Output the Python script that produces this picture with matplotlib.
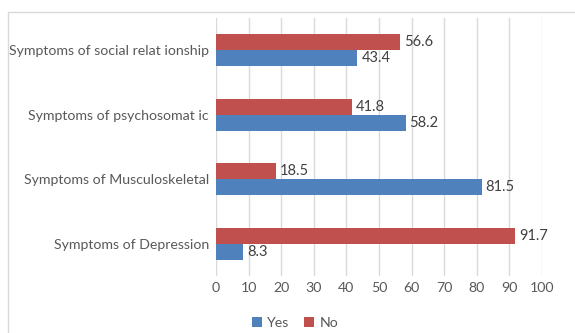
import matplotlib
matplotlib.use("Agg")
import matplotlib.pyplot as plt
from matplotlib.patches import Rectangle

categories = ["Symptoms of Depression", "Symptoms of Musculoskeletal",
              "Symptoms of psychosomat ic", "Symptoms of social relat ionship"]
yes_values = [8.3, 81.5, 58.2, 43.4]
no_values = [91.7, 18.5, 41.8, 56.6]
x_ticks = [0, 10, 20, 30, 40, 50, 60, 70, 80, 90, 100]

BLUE = "#4F81BD"
RED = "#C0504D"
GRID = "#D9D9D9"
TEXT = "#595959"
VAL = "#404040"
FS = 10.2

plt.rcParams["font.family"] = ["Lato", "DejaVu Sans"]

fig = plt.figure(figsize=(5.75, 3.33), dpi=100)
fig.patches.append(Rectangle((8 / 575, -0.1), 1.2, 1 - 12 / 333 + 0.1,
                             transform=fig.transFigure, fill=False,
                             edgecolor=GRID, linewidth=1.0))

ax = fig.add_axes([216 / 575, 57 / 333, (541.9 - 216) / 575, (276 - 18) / 333])
h = 0.25
pos = list(range(len(categories)))
yes_bars = ax.barh([p - h / 2 for p in pos], yes_values, height=h, color=BLUE, label="Yes")
no_bars = ax.barh([p + h / 2 for p in pos], no_values, height=h, color=RED, label="No")

for bars, vals in ((yes_bars, yes_values), (no_bars, no_values)):
    for b, v in zip(bars, vals):
        ax.text(v + 1.2, b.get_y() + b.get_height() / 2, f"{v:.1f}",
                va="center", ha="left", fontsize=10.5, color=VAL)

ax.set_xlim(0, 100)
ax.set_ylim(-0.5, 3.5)
ax.set_xticks(x_ticks)
ax.set_yticks(pos)
ax.set_yticklabels(categories)
ax.tick_params(axis="both", length=0, labelsize=FS, labelcolor=TEXT)
ax.tick_params(axis="y", pad=5)
ax.tick_params(axis="x", pad=4)
ax.grid(axis="x", color=GRID, linewidth=1.0)
ax.set_axisbelow(True)
for s in ax.spines.values():
    s.set_visible(False)

handles = [yes_bars, no_bars]
fig.legend(handles, ["Yes", "No"], loc="center", bbox_to_anchor=(295 / 575, 1 - 323 / 333),
           ncol=2, frameon=False, fontsize=FS, labelcolor=TEXT,
           handlelength=0.7, handleheight=0.7, handletextpad=0.4, columnspacing=1.0)

fig.savefig("out.png", dpi=100)
